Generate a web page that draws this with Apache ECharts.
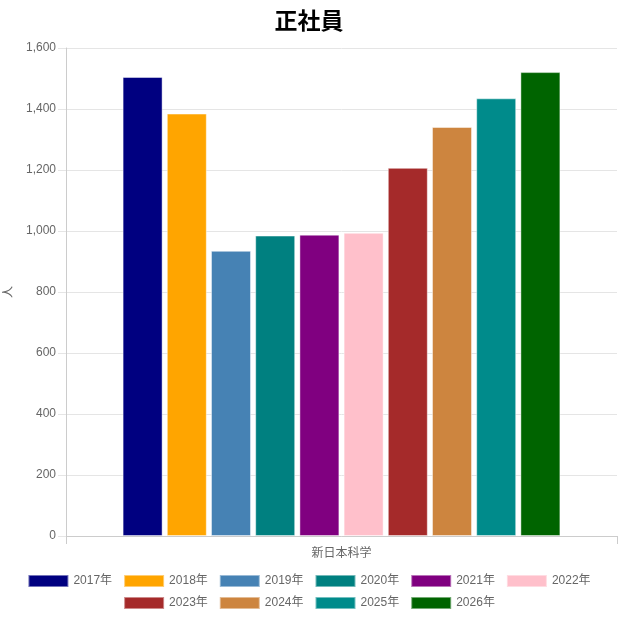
<!DOCTYPE html>
<html><head><meta charset="utf-8">
<script src="https://cdn.jsdelivr.net/npm/echarts@6/dist/echarts.min.js"></script>
<style>html,body{margin:0;padding:0;background:#fff}#c{width:618px;height:618px}</style>
</head><body><div id="c"></div>
<script>
const categories = ['新日本科学'];
const seriesNames = ['2017年','2018年','2019年','2020年','2021年','2022年','2023年','2024年','2025年','2026年'];
const seriesValues = [1505, 1385, 935, 985, 988, 994, 1207, 1341, 1435, 1521];
const seriesColors = ['#000080','#FFA500','#4682B4','#008080','#800080','#FFC0CB','#A52A2A','#CD853F','#008B8B','#006400'];
const yTicks = [0, 200, 400, 600, 800, 1000, 1200, 1400, 1600];

const FONT = '"Liberation Sans", Arial, "Noto Sans CJK JP", sans-serif';
const chart = echarts.init(document.getElementById('c'), null, {renderer: 'canvas'});
const legendCommon = {
  orient: 'horizontal', itemWidth: 40, itemHeight: 12, itemGap: 11, padding: 0,
  icon: 'rect', textStyle: {color: '#666', fontSize: 12, fontFamily: FONT}
};
chart.setOption({
  animation: false,
  textStyle: {fontFamily: FONT},
  title: {text: '正社員', left: 'center', top: 11, padding: 0,
    textStyle: {fontSize: 23, fontWeight: 'bold', color: '#000', fontFamily: FONT}},
  legend: [
    Object.assign({}, legendCommon, {data: seriesNames.slice(0, 6), left: 'center', top: 574}),
    Object.assign({}, legendCommon, {data: seriesNames.slice(6), left: 'center', top: 596})
  ],
  grid: {left: 66, right: 1, top: 48, bottom: 82, containLabel: false, outerBoundsMode: 'none'},
  xAxis: {
    type: 'category', data: categories,
    axisLine: {show: true, lineStyle: {color: '#ccc'}},
    axisTick: {show: true, length: 8, lineStyle: {color: '#ccc'}},
    axisLabel: {color: '#666', fontSize: 12, margin: 12}
  },
  yAxis: {
    type: 'value', min: 0, max: 1600, interval: 200,
    name: '人', nameLocation: 'middle', nameRotate: 90, nameGap: 45,
    nameTextStyle: {color: '#666', fontSize: 12},
    axisLine: {show: true, lineStyle: {color: '#ccc'}},
    axisTick: {show: true, length: 8, lineStyle: {color: '#e5e5e5'}},
    splitLine: {lineStyle: {color: '#e5e5e5'}},
    axisLabel: {color: '#666', fontSize: 12, margin: 10,
      formatter: v => yTicks.includes(v) ? v.toLocaleString('en-US') : ''}
  },
  series: seriesNames.map((n, i) => ({
    name: n, type: 'bar', data: [seriesValues[i]],
    barWidth: 40, barGap: '10.5%',
    itemStyle: {color: seriesColors[i], borderColor: 'rgba(255,255,255,0.45)', borderWidth: 1}
  }))
});
</script></body></html>
